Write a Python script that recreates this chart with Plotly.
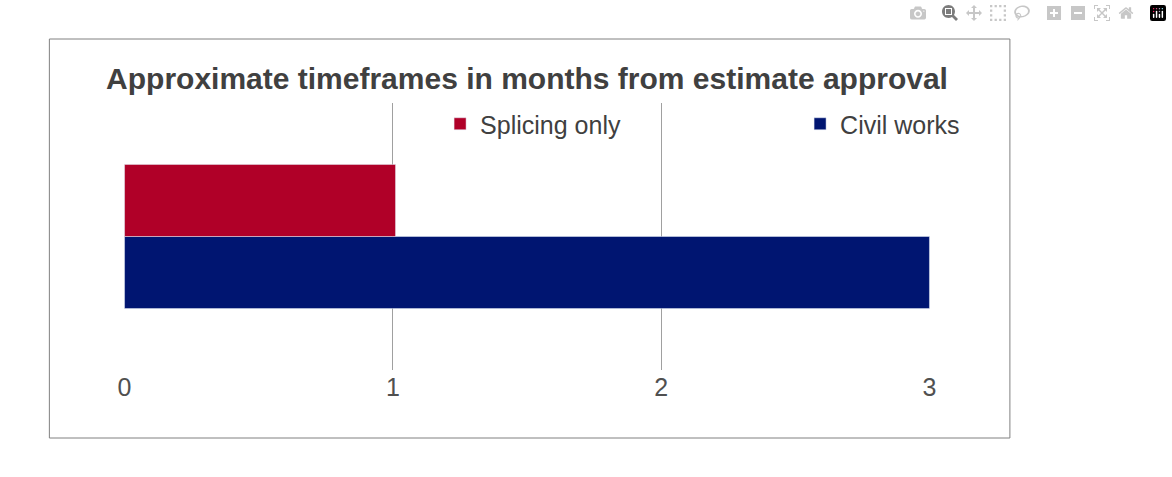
import plotly.graph_objects as go

series = ["Civil works", "Splicing only"]
values = [3.0, 1.01]
colors = ["#001571", "#B00028"]
category = ["Timeframe"]
tickvals = [0, 1, 2, 3]

fig = go.Figure()
for name, v, c in zip(series, values, colors):
    fig.add_trace(go.Bar(y=category, x=[v], name=name, orientation="h", marker_color=c))

W, H = 1172, 477
l, r, t, b = 124, 130, 103, 107
pw, ph = W - l - r, H - t - b
def px(x): return (x - l) / pw
def py(y): return (H - b - y) / ph

fig.update_layout(
    autosize=True, barmode="group", bargap=0.46,
    margin=dict(l=l, r=r, t=t, b=b),
    paper_bgcolor="white", plot_bgcolor="white",
    font=dict(family="Liberation Sans, Arial", color="#404040", size=24),
    title=dict(text="<b>Approximate timeframes in months from estimate approval</b>",
               x=0.5, xref="paper", y=1 - 78 / H, yanchor="middle",
               font=dict(size=30, color="#404040")),
    legend=dict(orientation="h", traceorder="reversed", x=px(484), y=py(124),
                xanchor="left", yanchor="middle", font=dict(size=25),
                entrywidth=315, entrywidthmode="pixels", bgcolor="rgba(0,0,0,0)"),
    xaxis=dict(range=[-0.002, 3.002], tickvals=tickvals, showgrid=True, gridcolor="#A0A0A0",
               gridwidth=1, zeroline=False, showline=False, ticks="",
               tickfont=dict(size=25, color="#505050")),
    yaxis=dict(showticklabels=False, showgrid=False, zeroline=False, range=[-0.5, 0.5]),
    shapes=[dict(type="rect", xref="paper", yref="paper",
                 x0=px(39), x1=px(1133), y0=py(438), y1=py(39),
                 line=dict(color="#808080", width=1))],
)
fig.write_html("out.html", default_width="100vw", default_height="100vh",
               post_script="document.body.style.margin='0';document.body.style.overflow='hidden';window.dispatchEvent(new Event('resize'));")
